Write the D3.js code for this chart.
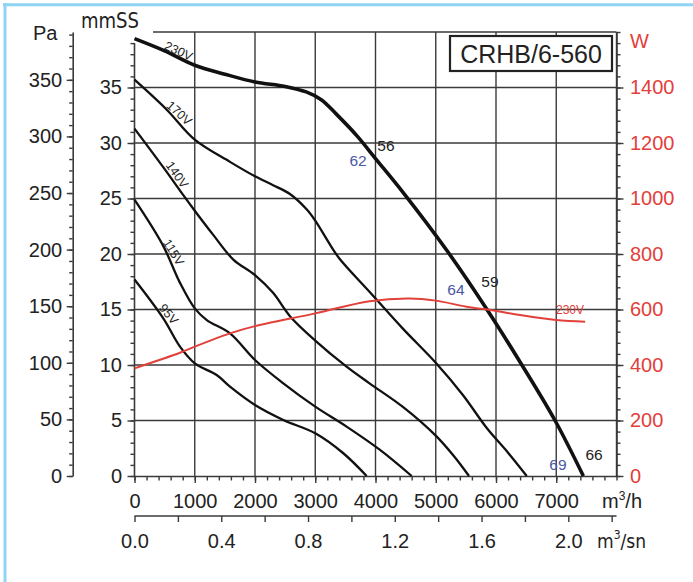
<!DOCTYPE html>
<html><head><meta charset="utf-8">
<script src="https://cdn.jsdelivr.net/npm/d3@7"></script>
<style>
html,body{margin:0;padding:0;background:#fff;}
svg{display:block;font-family:"Liberation Sans",Arial,sans-serif;}
</style></head>
<body>
<svg id="chart" width="693" height="582"></svg>
<script>
// ---- data (flow m3/h, pressure mmSS, power W) ----
const curve230 = [[0,39.4],[500,38.3],[1000,37.0],[1500,36.2],[2000,35.5],[2500,35.1],[2850,34.6],[3100,33.9],[3350,32.6],[3700,30.6],[4000,28.6],[4450,25.6],[5200,20.2],[5850,15.0],[6430,10.0],[6980,5.0],[7450,0]];
const curve170 = [[0,35.7],[535,33.0],[1000,30.3],[1585,28.3],[2000,27.0],[2300,26.2],[2580,25.4],[2860,24.0],[3000,23.0],[3250,20.8],[3400,19.6],[3900,16.6],[4450,13.3],[5000,10.2],[5450,7.3],[5850,4.3],[6200,2.1],[6510,0]];
const curve140 = [[0,31.3],[480,27.8],[810,25.3],[1000,23.9],[1310,21.7],[1640,19.5],[2000,18.1],[2300,16.5],[2580,14.4],[3000,12.2],[3520,9.85],[3900,8.35],[4460,6.2],[5016,3.55],[5300,1.8],[5552,0]];
const curve115 = [[0,24.9],[470,20.8],[755,17.4],[1000,15.1],[1200,14.05],[1585,12.85],[2000,10.45],[2470,8.35],[3000,6.25],[3520,4.45],[4075,2.35],[4600,0]];
const curve95  = [[0,17.7],[478,14.2],[755,11.65],[1000,10.15],[1364,9.1],[1585,8.05],[2000,6.4],[2470,5.05],[3000,3.85],[3466,2.05],[3853,0]];
const power230 = [[0,388],[755,444],[1000,466],[1585,514],[2000,540],[3000,586],[3900,630],[4570,640],[5000,632],[5510,610],[6000,595],[6400,580],[7000,562],[7480,556]];

const curveNames = ["230V","170V","140V","115V","95V"];
const flowTicks = [0,1000,2000,3000,4000,5000,6000,7000];
const mmssTicks = [0,5,10,15,20,25,30,35];
const paTicks = [0,50,100,150,200,250,300,350];
const wTicks = [0,200,400,600,800,1000,1200,1400];
const snTicks = [0,0.4,0.8,1.2,1.6,2.0];
const title = "CRHB/6-560";
// curve label anchors: [flow on curve, angle]
const curveLabelPos = [[690,25],[666,42],[613,55],[551,58],[480,50]];
// operating point labels: [text, flow, mmSS, colour]
const pointLabels = [["56",4174,29.8,"#222"],["62",3710,28.4,"#4a57a6"],["64",5336,16.8,"#4a57a6"],["59",5900,17.5,"#222"],["69",7029,1.0,"#4a57a6"],["66",7627,1.9,"#222"]];

const svg = d3.select("#chart");
const red = "#e2403a";
const gridC = "#3a3a3a";

const x = d3.scaleLinear().domain([0,8000]).range([134.5,616.5]);
const y = d3.scaleLinear().domain([0,40]).range([476,32]);
const yPa = d3.scaleLinear().domain([0,40*9.80665]).range([476,32]);
const yW = d3.scaleLinear().domain([0,1600]).range([476,32]);
const xs = d3.scaleLinear().domain([0,8000/3600]).range([134.5,616.5]);
const fmtInt = d3.format("d");

// frame
svg.append("line").attr("x1",5).attr("x2",5).attr("y1",3).attr("y2",582).attr("stroke","#8fd4f2").attr("stroke-width",3);
svg.append("line").attr("x1",3).attr("x2",693).attr("y1",4.7).attr("y2",4.7).attr("stroke","#8fd4f2").attr("stroke-width",3);

// grid
const g = svg.append("g");
g.selectAll("line.v").data(d3.range(1000,8001,1000)).join("line")
  .attr("x1",d=>x(d)).attr("x2",d=>x(d)).attr("y1",y(0)).attr("y2",y(40))
  .attr("stroke",gridC).attr("stroke-width",1.4);
g.selectAll("line.h").data(d3.range(5,41,5)).join("line")
  .attr("x1",x(0)).attr("x2",x(8000)).attr("y1",d=>y(d)).attr("y2",d=>y(d))
  .attr("stroke",gridC).attr("stroke-width",1.4);

// white box behind mmSS label
svg.append("rect").attr("x",78).attr("y",7).attr("width",75).attr("height",28).attr("fill","#fff");

function styleAxis(sel, color){
  sel.select(".domain").attr("stroke",color||gridC).attr("stroke-width",1.6);
  sel.selectAll(".tick line").attr("stroke",color||gridC).attr("stroke-width",1.4);
  sel.selectAll("text").attr("font-size",20).attr("font-family","Liberation Sans, Arial, sans-serif").attr("fill",color||"#222");
}
function minor(axisGen){ return axisGen.tickFormat("").tickSizeOuter(0); }

// mmSS axis (left of plot)
const gm = svg.append("g").attr("transform",`translate(${x(0)},0)`);
gm.append("g").call(minor(d3.axisLeft(y).tickValues(d3.range(0,40,1)).tickSize(4))).call(s=>{styleAxis(s); s.select(".domain").attr("d",`M0,${y(0)}V${y(39)}`);});
gm.append("g").call(d3.axisLeft(y).tickValues(mmssTicks).tickFormat(fmtInt).tickSize(7).tickPadding(5.5).tickSizeOuter(0)).call(s=>{styleAxis(s); s.select(".domain").remove();});

// Pa axis
const gp = svg.append("g").attr("transform","translate(72.7,0)");
gp.append("g").call(minor(d3.axisLeft(yPa).tickValues(d3.range(0,391,10)).tickSize(3.5))).call(s=>styleAxis(s));
gp.append("g").call(d3.axisLeft(yPa).tickValues(paTicks).tickFormat(fmtInt).tickSize(6).tickPadding(4.5).tickSizeOuter(0)).call(s=>{styleAxis(s); s.select(".domain").remove();});
svg.append("text").attr("x",33).attr("y",40).attr("font-size",20).attr("fill","#222").text("Pa");
svg.append("text").attr("x",81).attr("y",28).attr("font-size",21).attr("fill","#222").attr("font-family","DejaVu Sans, sans-serif").attr("textLength",58).attr("lengthAdjust","spacingAndGlyphs").text("mmSS");

// W axis (right)
const gw = svg.append("g").attr("transform",`translate(${x(8000)},0)`);
gw.append("g").call(minor(d3.axisRight(yW).tickValues(d3.range(0,1601,40)).tickSize(4))).call(s=>styleAxis(s, gridC));
gw.append("g").call(d3.axisRight(yW).tickValues(wTicks).tickFormat(fmtInt).tickSize(7).tickPadding(6.5).tickSizeOuter(0)).call(s=>{styleAxis(s); s.select(".domain").remove(); s.selectAll("text").attr("fill",red);});
svg.append("text").attr("x",630).attr("y",48).attr("font-size",20).attr("fill",red).text("W");

// flow axis m3/h
const gx = svg.append("g").attr("transform",`translate(0,${y(0)})`);
gx.append("g").call(minor(d3.axisBottom(x).tickValues(d3.range(0,8001,200)).tickSize(4.5))).call(s=>styleAxis(s));
gx.append("g").call(d3.axisBottom(x).tickValues(flowTicks).tickFormat(fmtInt).tickSize(7).tickSizeOuter(0)).call(s=>{styleAxis(s); s.select(".domain").remove(); s.selectAll("text").attr("dy",null).attr("y",32);});
const mh = svg.append("text").attr("x",602).attr("y",508).attr("font-size",20).attr("fill","#222");
mh.append("tspan").text("m");
mh.append("tspan").attr("font-size",12).attr("dy",-8).text("3");
mh.append("tspan").attr("dy",8).text("/h");

// flow axis m3/s
const gs = svg.append("g").attr("transform","translate(0,516)");
gs.append("g").call(d3.axisBottom(xs).tickValues(d3.range(0,2.21,0.2)).tickSize(6).tickFormat("").tickSizeOuter(0)).call(s=>{styleAxis(s); s.select(".domain").attr("d",`M${x(0)},0H${x(8000)}`);});
gs.append("g").call(d3.axisBottom(xs).tickValues(snTicks).tickSize(0).tickFormat(d3.format(".1f")).tickSizeOuter(0)).call(s=>{styleAxis(s); s.select(".domain").remove(); s.selectAll("text").attr("dy",null).attr("y",32);});
const ms = svg.append("text").attr("x",597).attr("y",548).attr("font-size",19).attr("fill","#222").attr("font-family","DejaVu Sans Condensed, DejaVu Sans, sans-serif");
ms.append("tspan").text("m");
ms.append("tspan").attr("font-size",12).attr("dy",-9).text("3");
ms.append("tspan").attr("dy",9).text("/sn");

// curves
const line = d3.line().x(d=>x(d[0])).y(d=>y(d[1])).curve(d3.curveCatmullRom.alpha(0.5));
const pline = d3.line().x(d=>x(d[0])).y(d=>yW(d[1])).curve(d3.curveCatmullRom.alpha(0.5));
const curves = [curve230,curve170,curve140,curve115,curve95];
svg.append("g").selectAll("path").data(curves).join("path")
  .attr("d",line).attr("fill","none").attr("stroke","#111")
  .attr("stroke-width",(d,i)=>i===0?3.6:2.3).attr("stroke-linejoin","round");
svg.append("path").datum(power230).attr("d",pline).attr("fill","none").attr("stroke",red).attr("stroke-width",2);

// curve labels, placed just above each curve, offset along its normal
function pressureAt(data, v){
  const xsA = data.map(d=>d[0]), ysA = data.map(d=>d[1]);
  const i = Math.max(1, d3.bisectLeft(xsA, v));
  const t = (v - xsA[i-1])/(xsA[i]-xsA[i-1]);
  return ysA[i-1] + t*(ysA[i]-ysA[i-1]);
}
svg.append("g").selectAll("text").data(curveNames).join("text")
  .attr("transform",(d,i)=>{
    const [v,ang] = curveLabelPos[i];
    const px = x(v), py = y(pressureAt(curves[i], v));
    const off = i===0 ? 6 : 7;
    const r = ang*Math.PI/180;
    return `translate(${px + off*Math.sin(r)},${py - off*Math.cos(r)}) rotate(${ang})`;
  })
  .attr("text-anchor","middle").attr("dy","0.35em").attr("font-size",12.5).attr("fill","#222").text(d=>d);
svg.append("text").attr("x",x(7228)).attr("y",y(15)).attr("dy","0.35em").attr("text-anchor","middle")
  .attr("font-size",12).attr("fill",red).text("230V");

// point labels
svg.append("g").selectAll("text").data(pointLabels).join("text")
  .attr("x",d=>x(d[1])).attr("y",d=>y(d[2])).attr("dy","0.35em").attr("text-anchor","middle")
  .attr("font-size",15.5).attr("fill",d=>d[3]).text(d=>d[0]);

// title box
svg.append("rect").attr("x",450).attr("y",36).attr("width",162).attr("height",35).attr("fill","#fff").attr("stroke","#222").attr("stroke-width",2.2);
svg.append("text").attr("x",531).attr("y",63).attr("text-anchor","middle").attr("font-size",25).attr("fill","#222").text(title);
</script>
</body></html>
